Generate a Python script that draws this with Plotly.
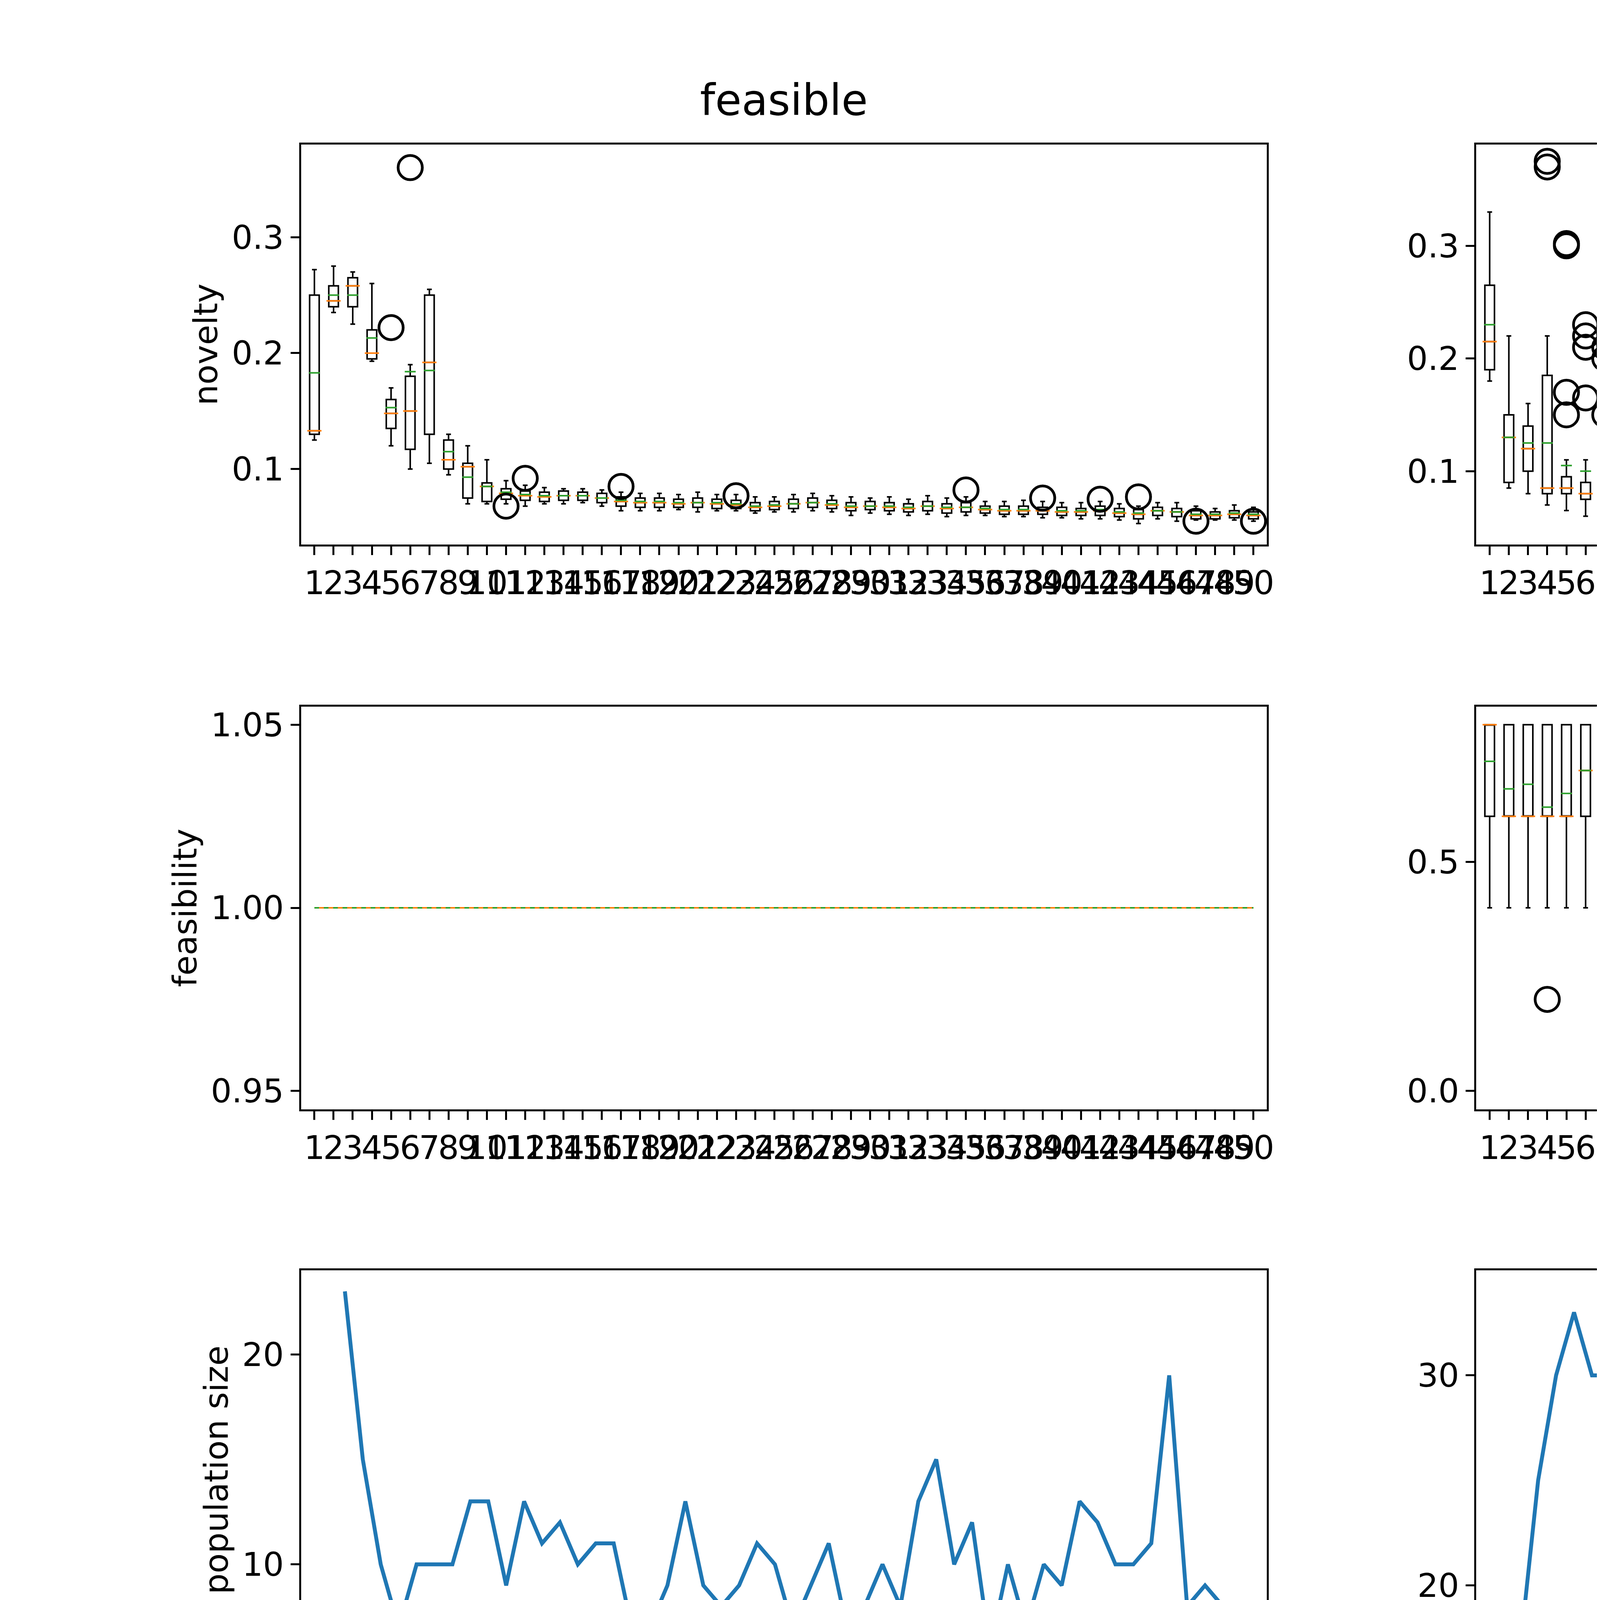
import plotly.graph_objects as go

gens = list(range(1, 51))

# population sizes
pop_feas = [23,15,10,7,10,10,10,13,13,9,13,11,12,10,11,11,7,7,9,13,9,8,9,11,10,7,9,11,7,8,
            10,8,13,15,10,12,6,10,7,10,9,13,12,10,10,11,19,8,9,8]
pop_infeas = [17,25,30,33,30,30,30,27,27,31,27,29,28,30,29,29,33,33,31,27,31,32,31,29,30,33,31,29,33,32,
              30,32,27,25,30,28,34,30,33,30,31,27,28,30,30,29,21,32,31,32]

# novelty, feasible
nf_med = [.133,.245,.258,.200,.148,.150,.192,.108,.102,.085,.079,.077,.076,.077,.077,.075,.072,.071,.071,.070,
          .071,.070,.069,.067,.068,.070,.071,.069,.067,.068,.067,.066,.068,.066,.067,.065,.064,.064,.064,.063,
          .063,.064,.062,.061,.064,.063,.060,.060,.061,.060]
nf_q1 = [.130,.240,.240,.195,.135,.117,.130,.100,.075,.072,.074,.073,.072,.073,.073,.071,.068,.067,.067,.067,
         .067,.066,.066,.064,.065,.066,.067,.066,.064,.065,.064,.063,.064,.062,.063,.062,.061,.061,.061,.060,
         .060,.060,.059,.057,.060,.059,.057,.057,.058,.057]
nf_q3 = [.250,.258,.265,.220,.160,.180,.250,.125,.105,.088,.083,.081,.080,.081,.080,.079,.076,.075,.075,.074,
         .075,.074,.073,.071,.072,.074,.075,.073,.071,.072,.071,.070,.072,.070,.071,.068,.068,.068,.067,.067,
         .066,.068,.066,.065,.067,.066,.064,.063,.064,.063]
nf_lo = [.125,.235,.225,.193,.120,.100,.105,.095,.070,.070,.070,.068,.070,.070,.071,.068,.064,.064,.064,.065,
         .063,.064,.064,.062,.063,.063,.064,.063,.060,.062,.061,.060,.061,.059,.060,.060,.059,.059,.058,.058,
         .057,.057,.056,.053,.057,.055,.056,.056,.056,.055]
nf_hi = [.272,.275,.270,.260,.170,.190,.255,.130,.120,.108,.090,.086,.084,.083,.083,.082,.080,.079,.079,.078,
         .080,.078,.078,.076,.076,.078,.079,.077,.076,.075,.076,.074,.077,.075,.076,.072,.072,.073,.072,.071,
         .071,.072,.070,.068,.071,.071,.068,.066,.069,.067]
nf_mean = [.183,.250,.250,.213,.153,.184,.185,.115,.093,.085,.080,.078,.077,.077,.077,.075,.073,.072,.072,.071,
           .071,.071,.070,.068,.069,.070,.071,.070,.068,.068,.068,.067,.068,.067,.067,.066,.065,.065,.065,.064,
           .064,.065,.063,.062,.064,.063,.061,.061,.062,.061]
nf_out_x = [5,6,11,12,17,23,35,39,42,44,47,50]
nf_out_y = [.222,.360,.068,.092,.085,.077,.082,.075,.074,.076,.055,.055]

# novelty, infeasible
ni_med = [.215,.130,.120,.085,.085,.080,.075,.080,.078,.076,.078,.077,.076,.075,.074,.073,.072,.071,.071,.070,
          .071,.071,.070,.070,.069,.070,.069,.069,.068,.068,.068,.067,.067,.066,.066,.066,.066,.065,.066,.064,
          .064,.063,.063,.062,.062,.062,.062,.062,.061,.061]
ni_q1 = [.190,.090,.100,.080,.080,.075,.068,.075,.072,.070,.074,.073,.072,.071,.070,.069,.068,.067,.067,.066,
         .067,.067,.066,.066,.065,.066,.065,.065,.064,.064,.064,.063,.063,.062,.062,.062,.062,.061,.062,.060,
         .060,.059,.059,.058,.058,.058,.058,.058,.057,.057]
ni_q3 = [.265,.150,.140,.185,.095,.090,.085,.100,.090,.085,.084,.083,.082,.081,.080,.079,.078,.077,.077,.076,
         .077,.077,.076,.076,.075,.076,.075,.075,.074,.074,.074,.073,.073,.072,.072,.072,.072,.071,.072,.070,
         .070,.069,.069,.068,.068,.068,.068,.068,.067,.067]
ni_lo = [.180,.085,.080,.070,.065,.060,.055,.065,.062,.062,.066,.065,.064,.063,.062,.061,.060,.059,.059,.058,
         .059,.059,.058,.058,.057,.058,.057,.057,.056,.056,.056,.055,.055,.054,.054,.054,.054,.053,.054,.052,
         .052,.051,.051,.050,.050,.050,.050,.050,.049,.049]
ni_hi = [.330,.220,.160,.220,.110,.110,.100,.120,.110,.100,.092,.091,.090,.089,.088,.087,.086,.085,.085,.084,
         .085,.085,.084,.084,.083,.084,.083,.083,.082,.082,.082,.081,.081,.080,.080,.080,.080,.079,.080,.078,
         .078,.077,.077,.076,.076,.076,.076,.076,.075,.075]
ni_mean = [.230,.130,.125,.125,.105,.100,.085,.090,.085,.082,.080,.079,.078,.077,.076,.075,.074,.073,.073,.072,
           .073,.073,.072,.072,.071,.072,.071,.071,.070,.070,.070,.069,.069,.068,.068,.068,.068,.067,.068,.066,
           .066,.065,.065,.064,.064,.064,.064,.064,.063,.063]
ni_out_x = [4,4,5,5,5,5,6,6,6,6,7,7,7,9,9,10,11,12,12,12,13,14,14,15,38,40,50]
ni_out_y = [.375,.370,.302,.300,.170,.150,.230,.220,.210,.165,.210,.200,.150,.140,.120,.135,.120,.100,.095,.070,
            .065,.100,.095,.070,.075,.075,.072]

# feasibility, feasible
ff_val = [1.0] * 50

# feasibility, infeasible
fi_q1 = [.6] * 20 + [.6, .6] + [.6] * 28
fi_q3 = [.8] * 20 + [.7, .65] + [.8] * 28
fi_lo = [.4] * 20 + [.6, .6] + [.4] * 28
fi_hi = [.8] * 20 + [.8, .6] + [.8] * 28
fi_med = [.8,.6,.6,.6,.6,.7,.6,.6,.6,.6,.6,.6,.6,.8,.6,.6,.6,.6,.6,.8,
          .6,.6,.6,.6,.6,.6,.6,.6,.6,.6,.6,.6,.6,.8,.6,.6,.6,.6,.6,.8,
          .6,.6,.8,.6,.6,.6,.8,.6,.6,.6]
fi_mean = [.72,.66,.67,.62,.65,.70,.64,.66,.69,.65,.68,.64,.66,.68,.59,.62,.66,.64,.68,.68,
           .62,.61,.68,.65,.66,.64,.67,.65,.66,.65,.63,.66,.66,.72,.66,.64,.66,.68,.66,.70,
           .68,.64,.70,.66,.68,.65,.70,.62,.63,.64]
fi_out_x = [4,13,14,15,16,16,17,20,21,22,22,22,24,25,26,30,31,33,34,42,47,47,48,49,49,50,21]
fi_out_y = [.2,.2,.2,.2,.2,0,0,.2,.4,.4,.8,.2,.2,0,.2,.2,0,.2,.2,.2,.2,0,.2,.2,0,.2,.4]

FONT = "DejaVu Sans"
LW = 4
fig = go.Figure()

xd = {1: [0.1195, 0.507], 2: [0.591, 0.979]}
yd = {1: [0.7115, 0.925], 2: [0.41, 0.625], 3: [0.111, 0.324]}

def ax(r, c):
    n = (r - 1) * 2 + c
    return ("x" if n == 1 else f"x{n}"), ("y" if n == 1 else f"y{n}"), n

def add_box(r, c, q1, med, q3, lo, hi, mean, ox, oy):
    xa, ya, _ = ax(r, c)
    fig.add_trace(go.Box(x=gens, q1=q1, median=med, q3=q3, lowerfence=lo, upperfence=hi,
                         xaxis=xa, yaxis=ya, width=0.5, whiskerwidth=0.5,
                         line=dict(color="black", width=LW), fillcolor="rgba(0,0,0,0)",
                         marker=dict(color="black"),
                         boxpoints=False, showlegend=False))
    fig.add_trace(go.Scatter(x=gens, y=med, mode="markers", xaxis=xa, yaxis=ya, showlegend=False,
                             marker=dict(symbol="line-ew-open", size=26, color="#ff7f0e",
                                         line=dict(color="#ff7f0e", width=LW))))
    fig.add_trace(go.Scatter(x=gens, y=mean, mode="markers", xaxis=xa, yaxis=ya, showlegend=False,
                             marker=dict(symbol="line-ew-open", size=20, color="#2ca02c",
                                         line=dict(color="#2ca02c", width=LW))))
    fig.add_trace(go.Scatter(x=ox, y=oy, mode="markers", xaxis=xa, yaxis=ya, showlegend=False,
                             marker=dict(symbol="circle-open", size=62, color="black",
                                         line=dict(color="black", width=7))))

add_box(1, 1, nf_q1, nf_med, nf_q3, nf_lo, nf_hi, nf_mean, nf_out_x, nf_out_y)
add_box(1, 2, ni_q1, ni_med, ni_q3, ni_lo, ni_hi, ni_mean, ni_out_x, ni_out_y)
add_box(2, 2, fi_q1, fi_med, fi_q3, fi_lo, fi_hi, fi_mean, fi_out_x, fi_out_y)

# feasible feasibility: degenerate boxes -> flat lines
fig.add_trace(go.Scatter(x=gens, y=ff_val, mode="lines", xaxis="x3", yaxis="y3", showlegend=False,
                         line=dict(color="#ff7f0e", width=LW)))
fig.add_trace(go.Scatter(x=gens, y=ff_val, mode="lines", xaxis="x3", yaxis="y3", showlegend=False,
                         line=dict(color="#2ca02c", width=LW, dash="dash")))

fig.add_trace(go.Scatter(x=gens, y=pop_feas, mode="lines", xaxis="x5", yaxis="y5", showlegend=False,
                         line=dict(color="#1f77b4", width=10)))
fig.add_trace(go.Scatter(x=gens, y=pop_infeas, mode="lines", xaxis="x6", yaxis="y6", showlegend=False,
                         line=dict(color="#1f77b4", width=10)))

TF = 84
common = dict(showline=True, mirror=True, linecolor="black", linewidth=5, ticks="outside",
              ticklen=22, tickwidth=5, tickcolor="black", showgrid=False, zeroline=False,
              tickfont=dict(size=TF, family=FONT, color="black"))
ticktext = [str(g) for g in gens]
yranges = {1: ([0.035, 0.38], [0.1, 0.2, 0.3], ["0.1", "0.2", "0.3"]),
           2: ([0.035, 0.39], [0.1, 0.2, 0.3], ["0.1", "0.2", "0.3"]),
           3: ([0.945, 1.055], [0.95, 1.0, 1.05], ["0.95", "1.00", "1.05"]),
           4: ([-0.04, 0.84], [0, 0.5], ["0.0", "0.5"]),
           5: ([5, 24], [10, 20], ["10", "20"]),
           6: ([16, 35], [20, 30], ["20", "30"])}
ytitles = {1: "novelty", 3: "feasibility", 5: "population size"}
layout = {}
for r in (1, 2, 3):
    for c in (1, 2):
        xa, ya, n = ax(r, c)
        xk = "xaxis" if n == 1 else f"xaxis{n}"
        yk = "yaxis" if n == 1 else f"yaxis{n}"
        if r < 3:
            xax = dict(domain=xd[c], anchor=ya, range=[0.3, 50.7], tickmode="array",
                       tickvals=gens, ticktext=ticktext, tickangle=0, **common)
        else:
            xax = dict(domain=xd[c], anchor=ya, range=[-1.45, 52.45], tickmode="array",
                       tickvals=[0, 20, 40], tickangle=0, **common,
                       title=dict(text="generations", font=dict(size=TF, family=FONT, color="black"), standoff=15))
        rng, tv, tt = yranges[n]
        yax = dict(domain=yd[r], anchor=xa, range=rng, tickmode="array", tickvals=tv, ticktext=tt, **common)
        if n in ytitles:
            yax["title"] = dict(text=ytitles[n], font=dict(size=TF, family=FONT, color="black"), standoff=10)
        layout[xk] = xax
        layout[yk] = yax

fig.update_layout(**layout, width=6400, height=4800, plot_bgcolor="white", paper_bgcolor="white",
                  margin=dict(l=0, r=0, t=0, b=0), showlegend=False,
                  annotations=[dict(text="feasible", x=sum(xd[1]) / 2, y=0.935, xref="paper", yref="paper",
                                    showarrow=False, xanchor="center", yanchor="bottom",
                                    font=dict(size=110, family=FONT, color="black")),
                               dict(text="infeasible", x=sum(xd[2]) / 2, y=0.935, xref="paper", yref="paper",
                                    showarrow=False, xanchor="center", yanchor="bottom",
                                    font=dict(size=110, family=FONT, color="black"))])
fig.write_html("out.html")
